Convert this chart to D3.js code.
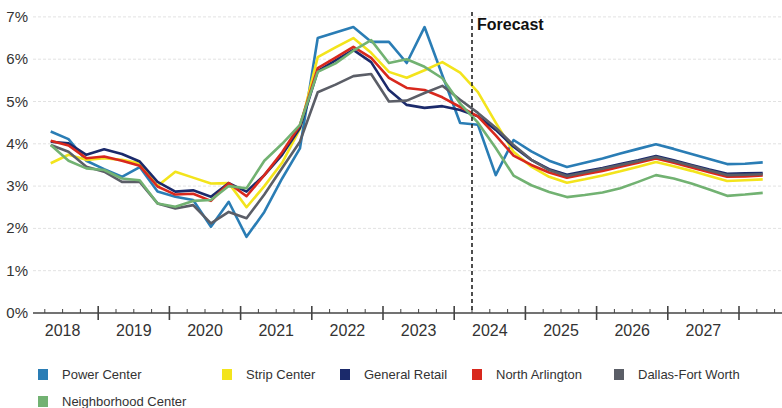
<!DOCTYPE html>
<html>
<head>
<meta charset="utf-8">
<script src="https://cdn.jsdelivr.net/npm/d3@7"></script>
<style>
  html, body { margin: 0; padding: 0; background: #fff; }
  svg { display: block; font-family: "Liberation Sans", Arial, sans-serif; }
</style>
</head>
<body>
<svg id="chart" width="782" height="408"></svg>
<script>
// ---------------- data ----------------
const quarters = [];
for (let y = 2018; y <= 2028; y++) for (let q = 1; q <= 4; q++) {
  if ((y === 2018 && q < 2) || (y === 2028 && q > 2)) continue;
  quarters.push({ year: y, q: q });
}
const yearLabels = ["2018","2019","2020","2021","2022","2023","2024","2025","2026","2027"];
const yTicks = [0,1,2,3,4,5,6,7];
const forecastStart = 2024.25;
const forecastLabel = "Forecast";

const powerCenter = [4.29,4.11,3.60,3.40,3.22,3.45,2.87,2.75,2.67,2.04,2.63,1.80,2.39,3.18,3.89,6.50,6.63,6.76,6.41,6.41,5.91,6.76,5.62,4.49,4.45,3.26,4.09,3.82,3.60,3.45,3.55,3.65,3.77,3.88,3.99,3.88,3.76,3.64,3.52,3.53,3.56];
const stripCenter = [3.54,3.74,3.62,3.66,3.62,3.54,3.00,3.34,3.20,3.06,3.07,2.50,3.00,3.55,4.35,6.05,6.28,6.50,6.15,5.70,5.56,5.74,5.93,5.68,5.22,4.50,3.81,3.46,3.22,3.08,3.16,3.25,3.35,3.46,3.57,3.47,3.36,3.24,3.12,3.14,3.16];
const generalRetail = [4.05,4.01,3.74,3.87,3.76,3.58,3.10,2.87,2.90,2.75,3.07,2.87,3.26,3.74,4.37,5.72,5.97,6.22,5.93,5.27,4.92,4.85,4.89,4.80,4.65,4.33,3.93,3.62,3.40,3.27,3.35,3.43,3.52,3.61,3.71,3.61,3.50,3.39,3.29,3.30,3.31];
const northArlington = [4.07,3.96,3.66,3.70,3.60,3.48,2.99,2.80,2.82,2.65,3.07,2.76,3.26,3.80,4.44,5.79,6.04,6.29,6.03,5.56,5.32,5.27,5.10,4.87,4.65,4.20,3.72,3.50,3.32,3.20,3.28,3.36,3.46,3.55,3.65,3.55,3.44,3.33,3.22,3.23,3.25];
const dallasFortWorth = [3.97,3.81,3.46,3.34,3.10,3.10,2.59,2.47,2.55,2.12,2.39,2.24,2.80,3.43,4.05,5.22,5.40,5.60,5.65,5.00,5.02,5.20,5.37,5.04,4.73,4.38,3.97,3.62,3.38,3.24,3.32,3.41,3.50,3.59,3.69,3.59,3.48,3.37,3.26,3.27,3.28];
const neighborhoodCenter = [3.97,3.60,3.42,3.38,3.18,3.14,2.59,2.51,2.65,2.67,3.00,2.95,3.60,4.00,4.45,5.70,5.90,6.20,6.45,5.91,6.00,5.82,5.55,4.95,4.50,3.90,3.25,3.02,2.86,2.74,2.79,2.85,2.95,3.10,3.26,3.18,3.06,2.92,2.77,2.80,2.84];

const seriesNames = ["Power Center","Strip Center","General Retail","North Arlington","Dallas-Fort Worth","Neighborhood Center"];
const seriesValues = [powerCenter, stripCenter, generalRetail, northArlington, dallasFortWorth, neighborhoodCenter];
const seriesColors = ["#2a7db5","#f3e41c","#1b2a6b","#d8281d","#5b5e67","#72b272"];

// ---------------- scales ----------------
const svg = d3.select("#chart");
svg.append("rect").attr("width",782).attr("height",408).attr("fill","#fff");

const x = d3.scaleLinear().domain([2018, 2028]).range([27, 739]);
const y = d3.scaleLinear().domain([0, 7]).range([313, 16.9]);
const tPos = d => d.year + (d.q - 1) / 4 + 1 / 12;
const axisLeft = 33, axisRight = 782;

// gridlines
svg.append("g").selectAll("line").data(yTicks.filter(v => v > 0)).join("line")
  .attr("x1", axisLeft).attr("x2", axisRight)
  .attr("y1", d => y(d)).attr("y2", d => y(d))
  .attr("stroke", "#e2e2e2").attr("stroke-width", 1).attr("stroke-dasharray", "3,2");

// y labels
svg.append("g").selectAll("text").data(yTicks).join("text")
  .attr("x", 28).attr("y", d => y(d) + 5)
  .attr("text-anchor", "end").attr("font-size", 15).attr("fill", "#333")
  .text(d => d + "%");

// x axis
const xa = svg.append("g");
xa.append("line").attr("x1", axisLeft).attr("x2", axisRight).attr("y1", 313).attr("y2", 313)
  .attr("stroke", "#444").attr("stroke-width", 1.5);
const qTicks = d3.range(2018.25, 2028.76, 0.25).filter(t => x(t) >= axisLeft && x(t) <= axisRight);
xa.selectAll("line.t").data(qTicks).join("line").attr("class","t")
  .attr("x1", d => x(d)).attr("x2", d => x(d))
  .attr("y1", d => Number.isInteger(d) ? 306 : 309)
  .attr("y2", d => Number.isInteger(d) ? 320 : 313)
  .attr("stroke", "#444").attr("stroke-width", d => Number.isInteger(d) ? 1.6 : 1);
xa.selectAll("text").data(yearLabels).join("text")
  .attr("x", d => x(+d + 0.5)).attr("y", 336)
  .attr("text-anchor", "middle").attr("font-size", 16).attr("fill", "#333")
  .text(d => d);

// lines
const line = d3.line().x((d, i) => x(tPos(quarters[i]))).y(d => y(d));
svg.append("g").selectAll("path").data(seriesValues).join("path")
  .attr("d", d => line(d))
  .attr("fill", "none")
  .attr("stroke", (d, i) => seriesColors[i])
  .attr("stroke-width", 2.6)
  .attr("stroke-linejoin", "round");

// forecast line
svg.append("line").attr("x1", x(forecastStart)).attr("x2", x(forecastStart))
  .attr("y1", 12).attr("y2", 313)
  .attr("stroke", "#222").attr("stroke-width", 1.6).attr("stroke-dasharray", "4,3");
svg.append("text").attr("x", x(forecastStart) + 5).attr("y", 30)
  .attr("font-size", 16).attr("font-weight", "bold").attr("fill", "#111")
  .text(forecastLabel);

// legend
const legendPos = [[38,375],[222,375],[340,375],[472,375],[614,375],[38,402]];
const lg = svg.append("g").selectAll("g").data(seriesNames).join("g")
  .attr("transform", (d, i) => `translate(${legendPos[i][0]},${legendPos[i][1]})`);
lg.append("rect").attr("x", 0).attr("y", -6).attr("width", 10).attr("height", 11)
  .attr("fill", (d, i) => seriesColors[i]);
lg.append("text").attr("x", 24).attr("y", 4).attr("font-size", 13).attr("fill", "#333")
  .text(d => d);
</script>
</body>
</html>
